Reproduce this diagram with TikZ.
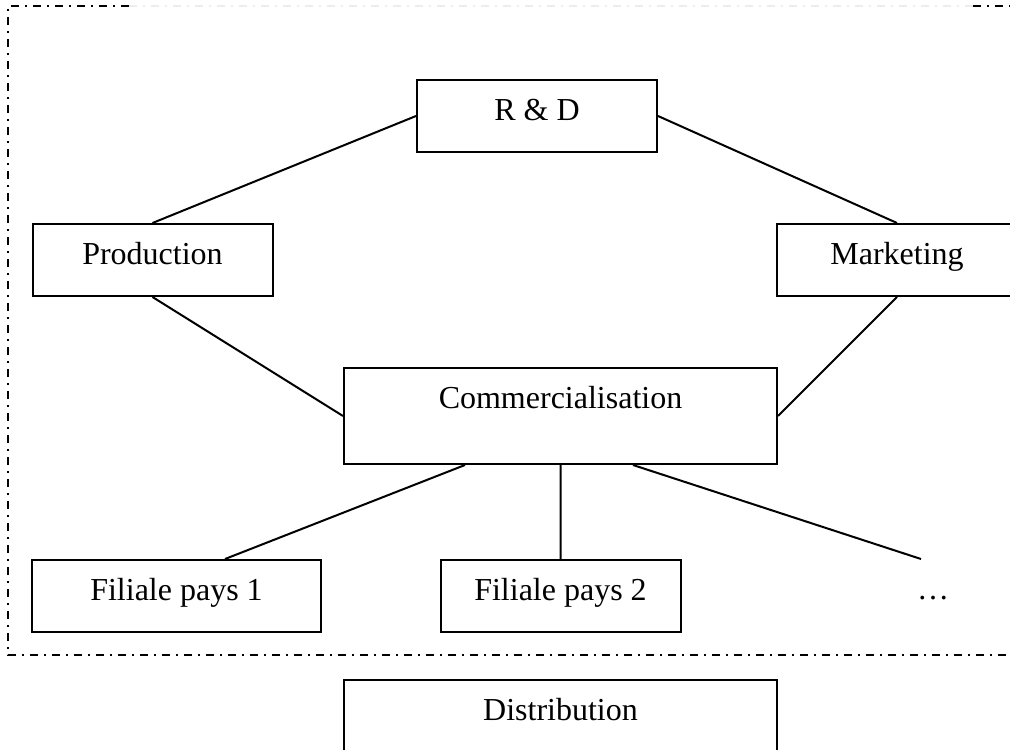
\documentclass[tikz,border=0pt]{standalone}
\usepackage{fontspec}
\setmainfont{Liberation Serif}
\tikzstyle{unit}=[draw=black,shape=rectangle,inner sep=0pt,text height=20pt,text depth=16pt,minimum width=120pt,anchor=north,font=\fontsize{16}{19}\selectfont]
\tikzstyle{frame}=[line width=1pt,dash pattern=on 4pt off 3pt on 1pt off 3pt]

\begin{document}
\begin{tikzpicture}[x=0.5pt, y=-0.5pt, line width=1pt]
	\clip (0,0) rectangle (1010,749);
	\fill[white] (0,0) rectangle (1010,749);
	% dash-dot frame
	\draw[frame] (129,6) -- (8,6) -- (8,655) -- (1030,655);
	\draw[frame] (973,6) -- (1030,6);
	\draw[frame, black!7] (129,6) -- (973,6);
	% units
	\node[unit] (rd) at (537,79) {R \& D};
	\node[unit] (prod) at (152.5,223) {Production};
	\node[unit] (mkt) at (897,223) {Marketing};
	\node[unit, minimum width=216.5pt, text depth=28pt] (com) at (560.5,367) {Commercialisation};
	\node[unit, minimum width=144.5pt] (fil1) at (176.5,559) {Filiale pays 1};
	\node[unit] (fil2) at (560.5,559) {Filiale pays 2};
	\node[font=\fontsize{16}{19}\selectfont] (fil3) at (933,598) {\dots};
	\coordinate (fil3top) at (921,559);
	\node[unit, minimum width=216.5pt, text depth=60pt] (dist) at (560.5,679) {Distribution};
	% links
	\draw (rd.west) -- (prod.north)
		(rd.east) -- (mkt.north)
		(prod.south) -- (com.west)
		(mkt.south) -- (com.east)
		([xshift=-47.75pt]com.south) -- ([xshift=24.25pt]fil1.north)
		(com.south) -- (fil2.north)
		([xshift=36.25pt]com.south) -- (fil3top);
\end{tikzpicture}
\end{document}
